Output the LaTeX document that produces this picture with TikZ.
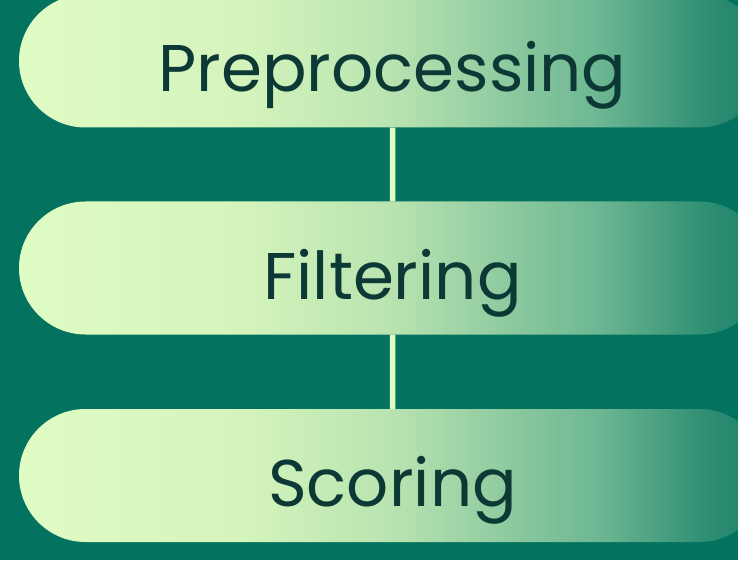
\documentclass[tikz,border=0pt]{standalone}
\usepackage{fontspec}
\setmainfont{Poppins}
\usetikzlibrary{shapes.misc}

\definecolor{bgteal}{HTML}{03735F}
\definecolor{pilltext}{HTML}{0C3935}
\definecolor{pillA}{HTML}{E0FCC5}
\definecolor{pillB}{HTML}{D4F4BC}
\definecolor{pillC}{HTML}{B8E3B0}
\definecolor{pillD}{HTML}{6BB692}
\definecolor{pillE}{HTML}{2F8E73}
\definecolor{pillF}{HTML}{1A7F66}
\pgfdeclarehorizontalshading{pillfade}{100bp}{color(0bp)=(pillA); color(25bp)=(pillA); color(40bp)=(pillB); color(50bp)=(pillC); color(64bp)=(pillD); color(71bp)=(pillE); color(75bp)=(pillF); color(100bp)=(pillF)}

\tikzset{
  pill/.style={rounded rectangle, shading=pillfade, minimum width=747pt,
    minimum height=133pt, inner sep=0pt, text=pilltext,
    text height=62pt, text depth=0pt,
    font=\fontsize{66}{76}\selectfont},
  link/.style={draw=pillA, line width=5.5pt}
}

\begin{document}
\begin{tikzpicture}[x=1pt,y=1pt]
\useasboundingbox[fill=bgteal] (0,0) rectangle (738,560);

\node[pill] (prep) at (392.5,499) {Preprocessing};
\node[pill] (filt) at (392.5,292) {Filtering};
\node[pill] (score) at (392.5,84.5) {Scoring};

\draw[link] (prep) -- (filt);
\draw[link] (filt) -- (score);
\end{tikzpicture}
\end{document}
